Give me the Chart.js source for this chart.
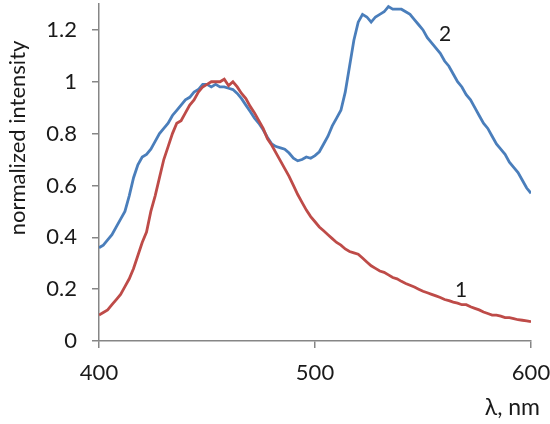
<!DOCTYPE html>
<html>
<head>
<meta charset="utf-8">
<script src="https://cdn.jsdelivr.net/npm/chart.js@4/dist/chart.umd.min.js"></script>
<style>
html,body{margin:0;padding:0;background:#fff;}
#wrap{width:550px;height:424px;position:relative;}
</style>
</head>
<body>
<div id="wrap"><canvas id="c"></canvas></div>
<script>
const wavelengths = [400,402,404,406,408,410,412,414,416,418,420,422,424,426,428,430,432,434,436,438,440,442,444,446,448,450,452,454,456,458,460,462,464,466,468,470,472,474,476,478,480,482,484,486,488,490,492,494,496,498,500,502,504,506,508,510,512,514,516,518,520,522,524,526,528,530,532,534,536,538,540,542,544,546,548,550,552,554,556,558,560,562,564,566,568,570,572,574,576,578,580,582,584,586,588,590,592,594,596,598,600];

const series1 = [0.10,0.11,0.12,0.14,0.16,0.18,0.21,0.24,0.28,0.33,0.38,0.42,0.50,0.56,0.63,0.70,0.75,0.80,0.84,0.85,0.88,0.91,0.93,0.96,0.98,0.99,1.00,1.00,1.00,1.01,0.985,1.00,0.98,0.955,0.935,0.905,0.88,0.85,0.82,0.78,0.755,0.725,0.695,0.665,0.635,0.60,0.565,0.535,0.505,0.48,0.46,0.44,0.425,0.41,0.395,0.38,0.37,0.355,0.345,0.34,0.335,0.32,0.305,0.29,0.28,0.27,0.265,0.255,0.245,0.24,0.23,0.222,0.215,0.208,0.20,0.192,0.186,0.18,0.174,0.168,0.16,0.156,0.15,0.146,0.14,0.14,0.132,0.126,0.12,0.112,0.106,0.10,0.10,0.096,0.09,0.09,0.086,0.082,0.08,0.078,0.075];

const series2 = [0.36,0.37,0.39,0.41,0.44,0.47,0.50,0.56,0.63,0.68,0.71,0.72,0.74,0.77,0.80,0.82,0.84,0.87,0.89,0.91,0.93,0.94,0.96,0.97,0.99,0.99,0.98,0.99,0.98,0.98,0.975,0.97,0.955,0.935,0.91,0.885,0.86,0.84,0.815,0.785,0.76,0.75,0.745,0.74,0.725,0.705,0.695,0.70,0.71,0.705,0.715,0.73,0.76,0.79,0.83,0.86,0.89,0.96,1.06,1.16,1.23,1.26,1.25,1.23,1.25,1.26,1.27,1.29,1.28,1.28,1.28,1.27,1.26,1.24,1.22,1.20,1.17,1.15,1.13,1.11,1.08,1.06,1.03,1.00,0.98,0.95,0.93,0.90,0.87,0.84,0.82,0.79,0.76,0.74,0.72,0.69,0.67,0.65,0.62,0.59,0.57];

const seriesLabels = ["1","2"];
const seriesLabelPos = [[567.6,0.197],[560.2,1.184]];
const xTicks = [400,500,600];
const yTicks = [0,0.2,0.4,0.6,0.8,1,1.2];
const yTitle = "normalized intensity";
const xTitle = "λ, nm";

const toPts = (ys) => wavelengths.map((x,i)=>({x:x,y:ys[i]}));

const FONT = 'Lato, "Open Sans", sans-serif';
const axisColor = '#868686';
const textColor = '#1a1a1a';

const labelsPlugin = {
  id:'labelsPlugin',
  afterDraw(chart){
    const ctx = chart.ctx;
    const xs = chart.scales.x, ys = chart.scales.y;
    ctx.save();
    ctx.fillStyle = textColor;
    ctx.font = '21px ' + FONT;
    ctx.textAlign = 'center';
    ctx.textBaseline = 'middle';
    seriesLabels.forEach((t,i)=>{
      ctx.fillText(t, xs.getPixelForValue(seriesLabelPos[i][0]), ys.getPixelForValue(seriesLabelPos[i][1]));
    });
    // x title
    ctx.font = '23px ' + FONT;
    ctx.textAlign = 'right';
    ctx.textBaseline = 'middle';
    ctx.fillText(xTitle, chart.chartArea.right + 9, 408);
    // y title
    ctx.font = '22px ' + FONT;
    ctx.translate(25, 138);
    ctx.rotate(-Math.PI/2);
    ctx.textAlign = 'center';
    ctx.textBaseline = 'alphabetic';
    ctx.fillText(yTitle, 0, 0);
    ctx.restore();
  }
};

new Chart(document.getElementById('c'), {
  type:'line',
  data:{
    datasets:[
      {label:'1', data:toPts(series1), borderColor:'#be4b48', borderWidth:2.8, pointRadius:0, tension:0, fill:false},
      {label:'2', data:toPts(series2), borderColor:'#4a7ebb', borderWidth:2.8, pointRadius:0, tension:0, fill:false}
    ]
  },
  options:{
    responsive:true,
    maintainAspectRatio:false,
    animation:false,
    devicePixelRatio:1,
    layout:{padding:{top:4,right:19,left:0,bottom:0}},
    plugins:{legend:{display:false},tooltip:{enabled:false}},
    scales:{
      x:{
        type:'linear', min:400, max:600,
        afterFit(s){ s.height = 83; s.paddingLeft = 0; s.paddingRight = 0; },
        afterBuildTicks(s){ s.ticks = xTicks.map(v=>({value:v})); },
        grid:{display:true, drawOnChartArea:false, drawTicks:true, tickLength:7, color:axisColor, lineWidth:1.5},
        border:{display:true, color:axisColor, width:1.5},
        ticks:{color:textColor, font:{family:FONT, size:22}, padding:12, maxRotation:0, callback:v=>String(v)}
      },
      y:{
        type:'linear', min:0, max:1.3,
        afterFit(s){ s.width = 99; s.paddingTop = 0; s.paddingBottom = 0; },
        afterBuildTicks(s){ s.ticks = yTicks.map(v=>({value:v})); },
        grid:{display:true, drawOnChartArea:false, drawTicks:true, tickLength:7, color:axisColor, lineWidth:1.5},
        border:{display:true, color:axisColor, width:1.5},
        ticks:{color:textColor, font:{family:FONT, size:22}, padding:15, callback:v=>String(Math.round(v*10)/10)}
      }
    }
  },
  plugins:[labelsPlugin]
});
</script>
</body>
</html>
